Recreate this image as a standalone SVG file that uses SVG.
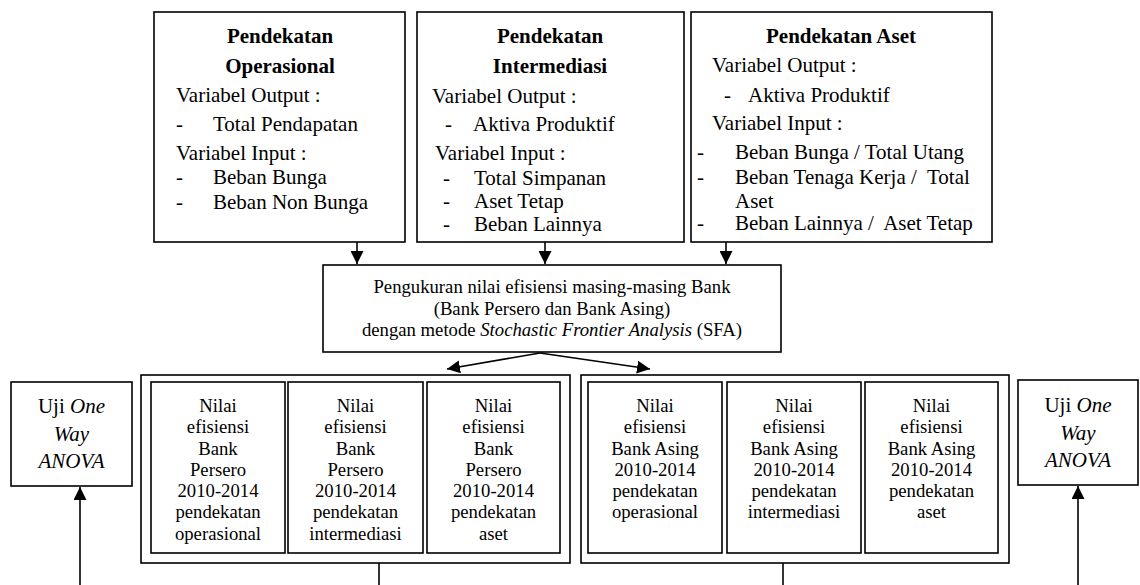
<svg xmlns="http://www.w3.org/2000/svg" width="1140" height="585" viewBox="0 0 1140 585">
<defs>
<style>
text{font-family:"Liberation Serif","Times New Roman",serif;fill:#000}
.t{font-size:21px}
.b{font-weight:bold}
.m{text-anchor:middle}
.s{font-size:18.7px;text-anchor:middle}
.i{font-style:italic}
.box{fill:#fff;stroke:#000;stroke-width:1.6}
.ln{fill:none;stroke:#000;stroke-width:1.6}
.pre{white-space:pre}
</style>
<marker id="ah" viewBox="0 0 10 10" refX="10" refY="5" markerWidth="13" markerHeight="13" markerUnits="userSpaceOnUse" orient="auto">
<path d="M0,0 L10,5 L0,10 Z" fill="#000"/>
</marker>
</defs>
<rect width="1140" height="585" fill="#fff"/>

<g id="operasional">
<rect class="box" x="154" y="12" width="251" height="230"/>
<text class="t b m" x="280" y="43">Pendekatan</text>
<text class="t b m" x="280" y="73">Operasional</text>
<text class="t" x="176" y="102">Variabel Output :</text>
<text class="t" x="176" y="131">-</text><text class="t" x="213" y="131">Total Pendapatan</text>
<text class="t" x="176" y="160">Variabel Input :</text>
<text class="t" x="176" y="184">-</text><text class="t" x="213" y="184">Beban Bunga</text>
<text class="t" x="176" y="209">-</text><text class="t" x="213" y="209">Beban Non Bunga</text>
</g>

<g id="intermediasi">
<rect class="box" x="417" y="12" width="267" height="230"/>
<text class="t b m" x="550" y="43">Pendekatan</text>
<text class="t b m" x="550" y="73">Intermediasi</text>
<text class="t" x="432" y="103">Variabel Output :</text>
<text class="t" x="445" y="131">-</text><text class="t" x="473" y="131">Aktiva Produktif</text>
<text class="t" x="435" y="160">Variabel Input :</text>
<text class="t" x="443" y="185">-</text><text class="t" x="474" y="185">Total Simpanan</text>
<text class="t" x="443" y="208">-</text><text class="t" x="474" y="208">Aset Tetap</text>
<text class="t" x="443" y="231">-</text><text class="t" x="474" y="231">Beban Lainnya</text>
</g>

<g id="aset">
<rect class="box" x="691" y="12" width="301" height="230"/>
<text class="t b m" x="841" y="43">Pendekatan Aset</text>
<text class="t" x="712" y="72">Variabel Output :</text>
<text class="t" x="724" y="102">-</text><text class="t" x="748" y="102">Aktiva Produktif</text>
<text class="t" x="712" y="130">Variabel Input :</text>
<text class="t" x="697" y="159">-</text><text class="t" x="735" y="159">Beban Bunga / Total Utang</text>
<text class="t" x="697" y="184">-</text><text class="t pre" x="735" y="184">Beban Tenaga Kerja /  Total</text>
<text class="t" x="735" y="208">Aset</text>
<text class="t" x="697" y="230">-</text><text class="t pre" x="735" y="230">Beban Lainnya /  Aset Tetap</text>
</g>

<g id="pengukuran">
<rect class="box" x="323" y="265" width="458" height="87"/>
<text class="s" x="552" y="293">Pengukuran nilai efisiensi masing-masing Bank</text>
<text class="s" x="552" y="315">(Bank Persero dan Bank Asing)</text>
<text class="s" x="552" y="336">dengan metode <tspan class="i">Stochastic Frontier Analysis</tspan> (SFA)</text>
</g>

<g id="persero-group">
<rect class="box" x="141" y="375" width="429" height="188"/>
<g id="persero-operasional">
<rect class="box" x="151" y="382" width="134" height="171"/>
<text class="s" x="218" y="412">Nilai</text>
<text class="s" x="218" y="433">efisiensi</text>
<text class="s" x="218" y="455">Bank</text>
<text class="s" x="218" y="476">Persero</text>
<text class="s" x="218" y="497">2010-2014</text>
<text class="s" x="218" y="518">pendekatan</text>
<text class="s" x="218" y="540">operasional</text>
</g>
<g id="persero-intermediasi">
<rect class="box" x="288" y="382" width="135" height="171"/>
<text class="s" x="355.5" y="412">Nilai</text>
<text class="s" x="355.5" y="433">efisiensi</text>
<text class="s" x="355.5" y="455">Bank</text>
<text class="s" x="355.5" y="476">Persero</text>
<text class="s" x="355.5" y="497">2010-2014</text>
<text class="s" x="355.5" y="518">pendekatan</text>
<text class="s" x="355.5" y="540">intermediasi</text>
</g>
<g id="persero-aset">
<rect class="box" x="427" y="382" width="133" height="171"/>
<text class="s" x="493.5" y="412">Nilai</text>
<text class="s" x="493.5" y="433">efisiensi</text>
<text class="s" x="493.5" y="455">Bank</text>
<text class="s" x="493.5" y="476">Persero</text>
<text class="s" x="493.5" y="497">2010-2014</text>
<text class="s" x="493.5" y="518">pendekatan</text>
<text class="s" x="493.5" y="540">aset</text>
</g>
</g>

<g id="asing-group">
<rect class="box" x="581" y="375" width="428" height="188"/>
<g id="asing-operasional">
<rect class="box" x="588" y="382" width="134" height="171"/>
<text class="s" x="655" y="412">Nilai</text>
<text class="s" x="655" y="433">efisiensi</text>
<text class="s" x="655" y="455">Bank Asing</text>
<text class="s" x="655" y="476">2010-2014</text>
<text class="s" x="655" y="497">pendekatan</text>
<text class="s" x="655" y="518">operasional</text>
</g>
<g id="asing-intermediasi">
<rect class="box" x="727" y="382" width="134" height="171"/>
<text class="s" x="794" y="412">Nilai</text>
<text class="s" x="794" y="433">efisiensi</text>
<text class="s" x="794" y="455">Bank Asing</text>
<text class="s" x="794" y="476">2010-2014</text>
<text class="s" x="794" y="497">pendekatan</text>
<text class="s" x="794" y="518">intermediasi</text>
</g>
<g id="asing-aset">
<rect class="box" x="865" y="382" width="133" height="171"/>
<text class="s" x="931.5" y="412">Nilai</text>
<text class="s" x="931.5" y="433">efisiensi</text>
<text class="s" x="931.5" y="455">Bank Asing</text>
<text class="s" x="931.5" y="476">2010-2014</text>
<text class="s" x="931.5" y="497">pendekatan</text>
<text class="s" x="931.5" y="518">aset</text>
</g>
</g>

<g id="anova-left">
<rect class="box" x="11" y="382" width="121" height="104"/>
<text class="t m" x="71.5" y="413">Uji <tspan class="i">One</tspan></text>
<text class="t m i" x="71.5" y="441">Way</text>
<text class="t m i" x="71.5" y="468">ANOVA</text>
</g>

<g id="anova-right">
<rect class="box" x="1018" y="380" width="120" height="105"/>
<text class="t m" x="1078" y="412">Uji <tspan class="i">One</tspan></text>
<text class="t m i" x="1078" y="440">Way</text>
<text class="t m i" x="1078" y="467">ANOVA</text>
</g>

<g id="connectors">
<line class="ln" x1="357" y1="242" x2="357" y2="264" marker-end="url(#ah)"/>
<line class="ln" x1="545" y1="242" x2="545" y2="264" marker-end="url(#ah)"/>
<line class="ln" x1="726" y1="242" x2="726" y2="264" marker-end="url(#ah)"/>
<line class="ln" x1="540" y1="353" x2="447" y2="369" marker-end="url(#ah)"/>
<line class="ln" x1="540" y1="353" x2="650" y2="369" marker-end="url(#ah)"/>
<line class="ln" x1="379" y1="563" x2="379" y2="585"/>
<line class="ln" x1="783" y1="563" x2="783" y2="585"/>
<line class="ln" x1="80" y1="585" x2="80" y2="487" marker-end="url(#ah)"/>
<line class="ln" x1="1078" y1="585" x2="1078" y2="486" marker-end="url(#ah)"/>
</g>
</svg>
